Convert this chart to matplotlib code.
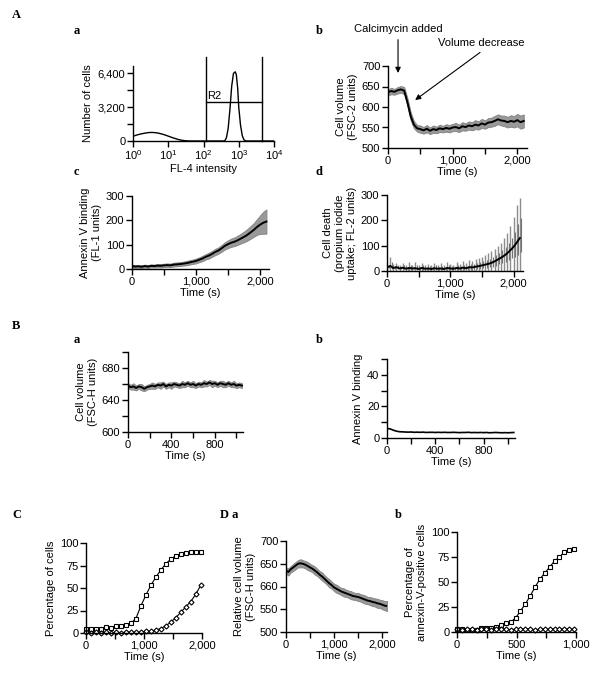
import numpy as np
import matplotlib
matplotlib.use('Agg')
import matplotlib.pyplot as plt
from matplotlib.ticker import FixedLocator, FuncFormatter, NullLocator

plt.rcParams['font.family'] = ['Liberation Sans', 'DejaVu Sans']
plt.rcParams['font.size'] = 8
plt.rcParams['mathtext.default'] = 'regular'

# ---- data ----
# A a: FL-4 histogram, log10 intensity / counts
hist_log = [0.0, 0.1, 0.2, 0.3, 0.4, 0.5, 0.6, 0.7, 0.8, 0.9, 1.0, 1.1, 1.2, 1.3, 1.4, 1.5, 1.6,
            2.0, 2.6, 2.65, 2.7, 2.75, 2.8, 2.85, 2.9, 2.93, 2.97, 3.0, 3.05, 3.1, 3.15, 3.2, 4.0]
hist_cnt = [450, 560, 650, 720, 780, 810, 800, 760, 680, 580, 460, 340, 230, 130, 60, 20, 0,
            0, 0, 300, 1200, 3000, 5200, 6400, 6550, 6300, 5000, 3200, 1500, 500, 100, 0, 0]
gate_lo, gate_hi, gate_y = 117, 4570, 3670

# A b: cell volume (FSC-2), every 50 s
vol_a = [636, 639, 637, 641, 643, 640, 612, 578, 557, 548, 546, 543, 547, 542, 546, 544, 548, 546,
         549, 547, 550, 551, 548, 553, 551, 555, 553, 557, 555, 560, 557, 562, 563, 566, 570, 567,
         566, 563, 566, 564, 568, 563, 566]
vol_a_sd = [7, 8, 7, 8, 8, 9, 10, 10, 9, 8, 9, 8, 9, 8, 9, 8, 9, 8, 9, 9, 9, 10, 9, 10, 9, 10, 10,
            11, 10, 11, 10, 11, 11, 12, 12, 12, 13, 13, 14, 14, 15, 16, 16]

# A c: annexin V binding (FL-1), every 50 s
ann_a = [12, 10, 11, 9, 12, 10, 13, 12, 14, 13, 15, 16, 15, 18, 19, 20, 22, 24, 27, 30, 33, 38, 43,
         50, 55, 62, 70, 76, 85, 95, 102, 108, 112, 118, 125, 132, 140, 150, 160, 172, 182, 190, 195]
ann_a_sd = [6, 6, 6, 6, 6, 6, 6, 6, 7, 7, 7, 7, 7, 8, 8, 8, 8, 9, 9, 9, 10, 10, 11, 11, 12, 12, 13,
            13, 14, 15, 16, 17, 18, 19, 20, 22, 24, 26, 28, 32, 38, 45, 50]

# A d: propidium iodide uptake (FL-2), every 50 s
pi_a = [14, 20, 12, 15, 10, 13, 9, 12, 10, 11, 8, 12, 9, 10, 8, 11, 9, 10, 8, 12, 10, 9, 12, 10,
        13, 11, 15, 14, 17, 19, 22, 25, 28, 32, 38, 45, 52, 60, 70, 82, 95, 112, 130]
pi_a_sd = [10, 35, 15, 18, 12, 20, 14, 22, 12, 25, 14, 20, 16, 18, 14, 22, 16, 20, 15, 25, 18, 16,
           22, 18, 25, 20, 28, 25, 30, 32, 35, 38, 42, 45, 50, 55, 60, 70, 80, 95, 120, 150, 160]

# B a: cell volume (FSC-H), every 25 s
vol_b = [658, 656, 657, 655, 657, 656, 654, 656, 657, 658, 657, 659, 658, 660, 657, 659, 658, 660,
         659, 658, 660, 659, 661, 659, 660, 658, 660, 659, 661, 660, 662, 660, 661, 659, 661, 660,
         659, 661, 659, 660, 658, 659, 658]
vol_b_sd = [3, 3, 4, 3, 3, 4, 3, 3, 3, 4, 3, 3, 4, 3, 3, 3, 4, 3, 3, 3, 4, 3, 3, 3, 4, 3, 3, 3, 4,
            3, 3, 4, 3, 3, 3, 4, 3, 3, 3, 4, 3, 3, 3]

# B b: annexin V binding, every 25 s
ann_b = [6, 5.8, 5, 4.4, 4, 3.9, 3.8, 3.7, 3.8, 3.6, 3.7, 3.6, 3.7, 3.5, 3.6, 3.6, 3.5, 3.6, 3.5,
         3.6, 3.5, 3.5, 3.6, 3.5, 3.4, 3.5, 3.5, 3.6, 3.4, 3.5, 3.4, 3.5, 3.4, 3.5, 3.3, 3.4, 3.5,
         3.4, 3.3, 3.4, 3.3, 3.4, 3.5]

# C: percentage of cells
t_c = [0, 86, 172, 258, 344, 430, 516, 602, 688, 774, 860, 946, 1032, 1118, 1204, 1290, 1376,
       1462, 1548, 1634, 1720, 1806, 1892, 1978]
c_sq = [4, 4, 4, 5, 7, 6, 8, 8, 9, 11, 16, 30, 42, 53, 62, 70, 77, 82, 86, 88, 89, 90, 90, 90]
c_di = [1, 0, 1, 0, 1, 0, 1, 0, 1, 1, 1, 1, 2, 2, 3, 5, 8, 12, 17, 23, 29, 35, 43, 53]

# D a: relative cell volume, every 50 s
vol_d = [635, 632, 638, 642, 646, 650, 651, 650, 648, 645, 642, 639, 635, 631, 626, 622, 617, 612,
         607, 603, 598, 595, 592, 589, 587, 585, 583, 581, 579, 578, 577, 575, 573, 571, 569, 568,
         566, 565, 563, 562, 560, 558, 557]
vol_d_sd = [7, 8, 7, 8, 8, 8, 9, 8, 8, 9, 8, 8, 9, 8, 8, 9, 8, 8, 9, 8, 8, 9, 8, 8, 9, 8, 8, 9, 8,
            8, 9, 8, 9, 9, 8, 9, 9, 9, 10, 9, 10, 10, 11]

# D b: percentage of annexin-V-positive cells
t_db = [0, 41, 82, 123, 164, 205, 246, 287, 328, 369, 410, 451, 492, 533, 574, 615, 656, 697, 738,
        779, 820, 861, 902, 943, 984]
db_sq = [3, 3, 2, 2, 2, 4, 4, 4, 5, 7, 9, 10, 14, 21, 28, 36, 45, 53, 59, 65, 71, 75, 80, 82, 83]
db_di = [3, 2, 3, 3, 2, 3, 3, 2, 3, 3, 3, 2, 3, 3, 3, 3, 2, 3, 3, 3, 3, 3, 3, 3, 3]


def comma(v, pos):
    return '{:,.0f}'.format(v)


def style(ax):
    for s in ['top', 'right']:
        ax.spines[s].set_visible(False)
    for s in ['left', 'bottom']:
        ax.spines[s].set_linewidth(1)
    ax.tick_params(which='both', direction='out', length=4, width=1, labelsize=8, pad=1.5)


def ticks(ax, xmaj, xmin, ymaj, ymin):
    ax.xaxis.set_major_locator(FixedLocator(xmaj))
    ax.xaxis.set_minor_locator(FixedLocator(xmin))
    ax.yaxis.set_major_locator(FixedLocator(ymaj))
    ax.yaxis.set_minor_locator(FixedLocator(ymin))
    ax.xaxis.set_major_formatter(FuncFormatter(comma))
    ax.yaxis.set_major_formatter(FuncFormatter(comma))


def trace(ax, step, y, sd, spiky=False):
    y = np.array(y, dtype=float)
    sd = np.array(sd, dtype=float)
    t = np.arange(len(y)) * step
    if spiky:
        # scattered single readings: draw as thin spikes
        ax.vlines(t, np.clip(y - sd, 0, None), y + sd, color='0.55', lw=1.0)
        ax.vlines(t + step / 2, np.clip(y - sd / 3, 0, None), y + sd / 2, color='0.45', lw=0.8)
    else:
        ax.fill_between(t, y - sd, y + sd, color='0.6', lw=0.6, edgecolor='0.5')
    ax.plot(t, y, color='k', lw=1.4)


def fr(x0, y0, x1, y1):
    return [x0 / 600, 1 - y1 / 677, (x1 - x0) / 600, (y1 - y0) / 677]


fig = plt.figure(figsize=(6, 6.77), dpi=100)

letter = dict(family=['Liberation Serif', 'DejaVu Serif'], fontweight='bold', fontsize=9,
              va='center', ha='left')
for txt, x, y in [('A', 12, 15), ('a', 74, 31), ('b', 316, 31), ('c', 74, 172), ('d', 316, 172),
                  ('B', 12, 326), ('a', 74, 340), ('b', 316, 340), ('C', 12, 515),
                  ('D a', 220, 515), ('b', 395, 515)]:
    fig.text(x / 600, 1 - y / 677, txt, **letter)

# A a
ax = fig.add_axes(fr(133, 66, 274, 141))
style(ax)
ax.set_xscale('log')
ax.plot(10 ** np.array(hist_log), hist_cnt, color='k', lw=1)
ax.set_xlim(1, 1e4)
ax.set_ylim(0, 7100)
ax.xaxis.set_major_locator(FixedLocator([1, 10, 100, 1000, 10000]))
ax.xaxis.set_minor_locator(NullLocator())
ax.set_xticklabels(['10$^0$', '10$^1$', '10$^2$', '10$^3$', '10$^4$'])
ax.yaxis.set_major_locator(FixedLocator([0, 3200, 6400]))
ax.yaxis.set_minor_locator(FixedLocator([1600, 4800]))
ax.yaxis.set_major_formatter(FuncFormatter(comma))
for g in [gate_lo, gate_hi]:
    ax.plot([g, g], [0, 7950], color='k', lw=1, clip_on=False)
ax.plot([gate_lo, gate_hi], [gate_y, gate_y], color='k', lw=1)
ax.text(gate_lo * 1.1, gate_y + 80, 'R2', va='bottom', ha='left')
ax.set_xlabel('FL-4 intensity', labelpad=1)
ax.set_ylabel('Number of cells', labelpad=3)

# A b
ax = fig.add_axes(fr(388, 66, 527, 148))
style(ax)
trace(ax, 50, vol_a, vol_a_sd)
ax.set_xlim(0, 2150)
ax.set_ylim(500, 700)
ticks(ax, [0, 1000, 2000], [500, 1500], [500, 550, 600, 650, 700], [])
ax.set_xlabel('Time (s)', labelpad=1)
ax.set_ylabel('Cell volume\n(FSC-2 units)', labelpad=3)
arrow = dict(arrowstyle='-|>', color='k', lw=0.8, mutation_scale=8, shrinkA=2, shrinkB=0)
ax.annotate('Calcimycin added', xy=(155, 683), xytext=(155, 790), ha='center', va='center',
            arrowprops=arrow, annotation_clip=False, fontsize=8)
ax.annotate('Volume decrease', xy=(420, 617), xytext=(1450, 756), ha='center', va='center',
            arrowprops=dict(arrow, relpos=(0.55, 0)), annotation_clip=False, fontsize=8)

# A c
ax = fig.add_axes(fr(132, 196, 269, 269))
style(ax)
trace(ax, 50, ann_a, ann_a_sd)
ax.set_xlim(0, 2140)
ax.set_ylim(0, 300)
ticks(ax, [0, 1000, 2000], [500, 1500], [0, 100, 200, 300], [])
ax.set_xlabel('Time (s)', labelpad=1)
ax.set_ylabel('Annexin V binding\n(FL-1 units)', labelpad=3)

# A d
ax = fig.add_axes(fr(387, 195, 523, 271))
style(ax)
trace(ax, 50, pi_a, pi_a_sd, spiky=True)
ax.set_xlim(0, 2150)
ax.set_ylim(0, 300)
ticks(ax, [0, 1000, 2000], [500, 1500], [0, 100, 200, 300], [])
ax.set_xlabel('Time (s)', labelpad=1)
ax.set_ylabel('Cell death\n(propium iodide\nuptake; FL-2 units)', labelpad=3)

# B a
ax = fig.add_axes(fr(128, 352, 243, 432))
style(ax)
trace(ax, 25, vol_b, vol_b_sd)
ax.set_xlim(0, 1060)
ax.set_ylim(600, 700)
ticks(ax, [0, 400, 800], [200, 600, 1000], [600, 640, 680], [620, 660, 700])
ax.set_xlabel('Time (s)', labelpad=1)
ax.set_ylabel('Cell volume\n(FSC-H units)', labelpad=3)

# B b
ax = fig.add_axes(fr(387, 359, 515, 438))
style(ax)
ax.plot(np.arange(len(ann_b)) * 25, ann_b, color='k', lw=1.2)
ax.set_xlim(0, 1060)
ax.set_ylim(0, 50)
ticks(ax, [0, 400, 800], [200, 600, 1000], [0, 20, 40], [10, 30, 50])
ax.set_xlabel('Time (s)', labelpad=1)
ax.set_ylabel('Annexin V binding', labelpad=3)

mk = dict(color='k', lw=0.8, mfc='white', mec='k', mew=0.8, clip_on=False)

# C
ax = fig.add_axes(fr(86, 543, 202, 633))
style(ax)
ax.plot(t_c, c_sq, marker='s', ms=3.0, **mk)
ax.plot(t_c, c_di, marker='D', ms=2.6, **mk)
ax.set_xlim(0, 2000)
ax.set_ylim(0, 100)
ticks(ax, [0, 1000, 2000], [500, 1500], [0, 25, 50, 75, 100], [])
ax.set_xlabel('Time (s)', labelpad=1)
ax.set_ylabel('Percentage of cells', labelpad=3)

# D a
ax = fig.add_axes(fr(286, 541, 387, 632))
style(ax)
trace(ax, 50, vol_d, vol_d_sd)
ax.set_xlim(0, 2100)
ax.set_ylim(500, 700)
ticks(ax, [0, 1000, 2000], [500, 1500], [500, 550, 600, 650, 700], [])
ax.set_yticklabels(['500', '550', '660', '650', '700'])
ax.set_xlabel('Time (s)', labelpad=1)
ax.set_ylabel('Relative cell volume\n(FSC-H units)', labelpad=3)

# D b
ax = fig.add_axes(fr(457, 532, 576, 632))
style(ax)
ax.plot(t_db, db_sq, marker='s', ms=3.0, **mk)
ax.plot(t_db, db_di, marker='D', ms=2.6, **mk)
ax.set_xlim(0, 1000)
ax.set_ylim(0, 100)
ticks(ax, [0, 500, 1000], [250, 750], [0, 25, 50, 75, 100], [])
ax.set_xlabel('Time (s)', labelpad=1)
ax.set_ylabel('Percentage of\nannexin-V-positive cells', labelpad=3)

fig.savefig('out.png', dpi=100)
